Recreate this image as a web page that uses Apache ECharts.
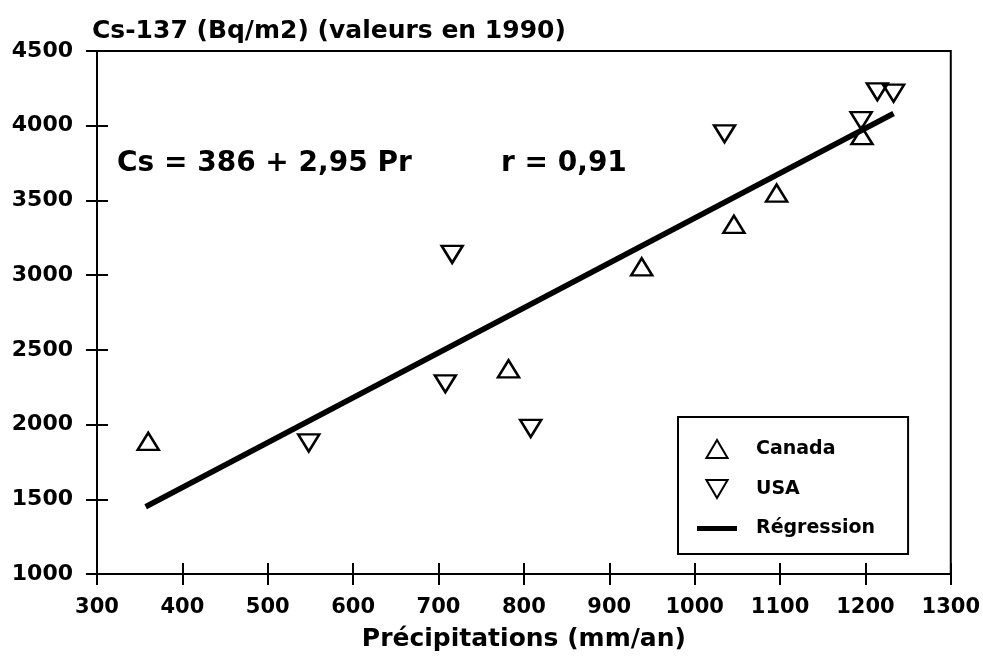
<!DOCTYPE html>
<html>
<head>
<meta charset="utf-8">
<title>Cs-137</title>
<script src="https://cdn.jsdelivr.net/npm/echarts@6/dist/echarts.min.js"></script>
<style>
    html, body { margin: 0; padding: 0; background: #fff; }
    #chart-container { width: 983px; height: 657px; }
</style>
</head>
<body>
<div id="chart-container"></div>
<script>
// valeurs (précipitations mm/an, Cs-137 Bq/m2)
var canada = [
    [360, 1888], [782, 2373], [938, 3056], [1046, 3340], [1096, 3549], [1196, 3933]
];
var usa = [
    [548, 1877], [708, 2273], [716, 3139], [808, 1974], [1035, 3946],
    [1195, 4034], [1214, 4227], [1233, 4218]
];
var regression = [[357, 1450], [1233, 4082]];
var xTicks = [300, 1300, 100];   // min, max, interval
var yTicks = [1000, 4500, 500];

var equation = 'Cs = 386 + 2,95 Pr';
var coef = 'r = 0,91';

var FONT = 'DejaVu Sans';
var upTriangle = 'path://M10,0L20,17L0,17Z';
var downTriangle = 'path://M0,0L20,0L10,17Z';
var lineIcon = 'path://M0,0L40,0L40,5L0,5Z';

var chart = echarts.init(document.getElementById('chart-container'));

var markerStyle = {
    color: 'rgba(0,0,0,0)',
    borderColor: '#000',
    borderWidth: 2.5,
    opacity: 1
};

// axe 0 : ticks extérieurs + libellés, axe 1 : ticks intérieurs
function xAxisOf(inner) {
    return {
        type: 'value',
        position: 'bottom',
        min: xTicks[0], max: xTicks[1], interval: xTicks[2],
        name: inner ? '' : 'Précipitations (mm/an)',
        nameLocation: 'middle',
        nameGap: 53,
        nameTextStyle: {color: '#000', fontFamily: FONT, fontWeight: 'bold', fontSize: 25},
        axisLine: {show: !inner, onZero: false, lineStyle: {color: '#000', width: 2}},
        axisTick: {show: true, inside: inner, length: 11, lineStyle: {color: '#000', width: 2}},
        axisLabel: {
            show: !inner, margin: 23, color: '#000',
            fontFamily: FONT, fontWeight: 'bold', fontSize: 21,
            formatter: function(v) { return String(v); }
        },
        splitLine: {show: false}
    };
}

function yAxisOf(inner) {
    return {
        type: 'value',
        position: 'left',
        min: yTicks[0], max: yTicks[1], interval: yTicks[2],
        axisLine: {show: !inner, onZero: false, lineStyle: {color: '#000', width: 2}},
        axisTick: {show: true, inside: inner, length: 11, lineStyle: {color: '#000', width: 2}},
        axisLabel: {
            show: !inner, margin: 24, color: '#000',
            fontFamily: FONT, fontWeight: 'bold', fontSize: 22,
            formatter: function(v) { return String(v); }
        },
        splitLine: {show: false}
    };
}

var option = {
    backgroundColor: '#fff',
    animation: false,
    title: {
        text: 'Cs-137 (Bq/m2) (valeurs en 1990)',
        left: 92, top: 19, padding: 0,
        textStyle: {color: '#000', fontFamily: FONT, fontWeight: 'bold', fontSize: 25}
    },
    grid: {
        left: 97, right: 32, top: 51, bottom: 82,
        show: true, borderColor: '#000', borderWidth: 2
    },
    legend: {
        orient: 'vertical',
        left: 678, top: 417,
        data: [
            {name: 'Canada', icon: upTriangle},
            {name: 'USA', icon: downTriangle},
            {name: 'Régression', icon: lineIcon}
        ],
        backgroundColor: '#fff',
        borderColor: '#000', borderWidth: 2, borderRadius: 0,
        padding: [22, 33, 16, 19],
        itemWidth: 40, itemHeight: 18, itemGap: 20,
        textStyle: {
            color: '#000', fontFamily: FONT, fontWeight: 'bold', fontSize: 19,
            padding: [0, 0, 0, 14]
        }
    },
    xAxis: [xAxisOf(false), xAxisOf(true)],
    yAxis: [yAxisOf(false), yAxisOf(true)],
    graphic: [
        {
            type: 'text', left: 117, top: 150,
            style: {text: equation, fill: '#000', font: 'bold 28px "' + FONT + '"'}
        },
        {
            type: 'text', left: 501, top: 150,
            style: {text: coef, fill: '#000', font: 'bold 28px "' + FONT + '"'}
        }
    ],
    series: [
        {
            name: 'Canada', type: 'scatter',
            symbol: upTriangle, symbolSize: [21, 17],
            itemStyle: markerStyle,
            data: canada
        },
        {
            name: 'USA', type: 'scatter',
            symbol: downTriangle, symbolSize: [21, 17],
            itemStyle: markerStyle,
            data: usa
        },
        {
            name: 'Régression', type: 'line',
            xAxisIndex: 1, yAxisIndex: 1,
            symbol: 'none', showSymbol: false,
            lineStyle: {color: '#000', width: 5.5},
            itemStyle: {color: '#000'},
            data: regression
        }
    ]
};

chart.setOption(option);
</script>
</body>
</html>
